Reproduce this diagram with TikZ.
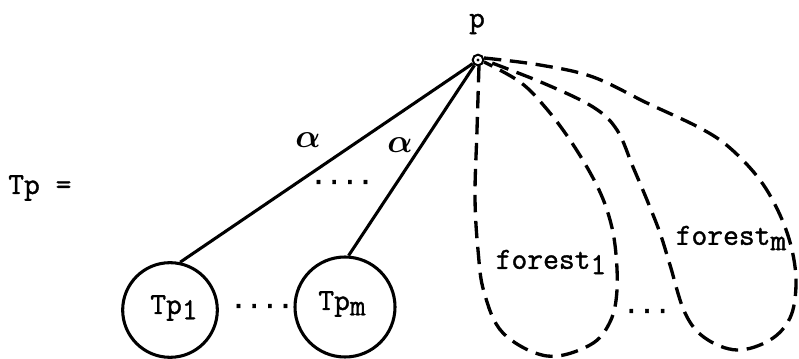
\documentclass[tikz,border=0pt]{standalone}
\usepackage{fontspec}
\usepackage{bm}
\newfontfamily\tw{Latin Modern Mono}[FakeBold=1.2]
\newfontfamily\dotfont{DejaVu Sans Mono}[FakeBold=1.5]
\begin{document}
\begin{tikzpicture}[x=0.75pt,y=-0.75pt,
  txt/.style={font=\tw\fontsize{23}{27}\selectfont, inner sep=0pt},
  dotstxt/.style={font=\dotfont\fontsize{19.5}{24}\selectfont, inner sep=0pt},
  alph/.style={font=\fontsize{30}{34}\selectfont, inner sep=0pt},
  edge/.style={line width=2.3pt},
  loop/.style={line width=2.5pt, dash pattern=on 13pt off 6.5pt}]
\useasboundingbox (0,0) rectangle (799,359);

\node[txt] (plab) at (477,24) {p};
\node[draw, circle, line width=1.5pt, inner sep=0pt, minimum size=8pt] (p) at (478,60) {};
\fill (p.center) circle (1.2pt);
\node[txt, anchor=west] (tp) at (8,188) {Tp =};

\node[draw, circle, line width=2.3pt, minimum size=71pt, inner sep=0pt] (t1) at (170,310) {};
\node[draw, circle, line width=2.3pt, minimum size=75pt, inner sep=0pt] (tm) at (345,307) {};
\node[txt] (t1lab) at (174,308) {Tp\raisebox{-0.4ex}{1}};
\node[txt] (tmlab) at (342,304) {Tp\raisebox{-0.4ex}{m}};

\draw[edge] (p) -- (t1.78);
\draw[edge] (p) -- (tm.86);

\node[alph] (a1) at (308,140) {$\bm{\alpha}$};
\node[alph] (a2) at (400,145) {$\bm{\alpha}$};
\node[dotstxt] (d1) at (342,182) {....};
\node[dotstxt] (d2) at (262,306) {....};
\node[dotstxt] (d3) at (647,311) {...};

\draw[loop] plot[smooth, tension=0.6] coordinates {
  (479,65) (477,130) (475,197) (478,250) (484,292) (503,333) (547,356)
  (590,345) (610,322) (617,290) (615,245) (607,210) (593,178) (570,140)
  (545,107) (520,82) (484,62)};
\draw[loop] plot[smooth, tension=0.6] coordinates {
  (484,58) (540,65) (593,77) (647,103) (700,128) (730,148) (760,180)
  (780,215) (792,250) (796,285) (790,318) (770,340) (737,350) (705,338)
  (685,313) (670,265) (660,233) (647,200) (633,167) (617,130) (593,107)
  (543,83) (484,60)};

\node[txt] (f1) at (551,262) {forest\raisebox{-0.4ex}{1}};
\node[txt] (fm) at (731,238) {forest\raisebox{-0.4ex}{m}};
\end{tikzpicture}
\end{document}
